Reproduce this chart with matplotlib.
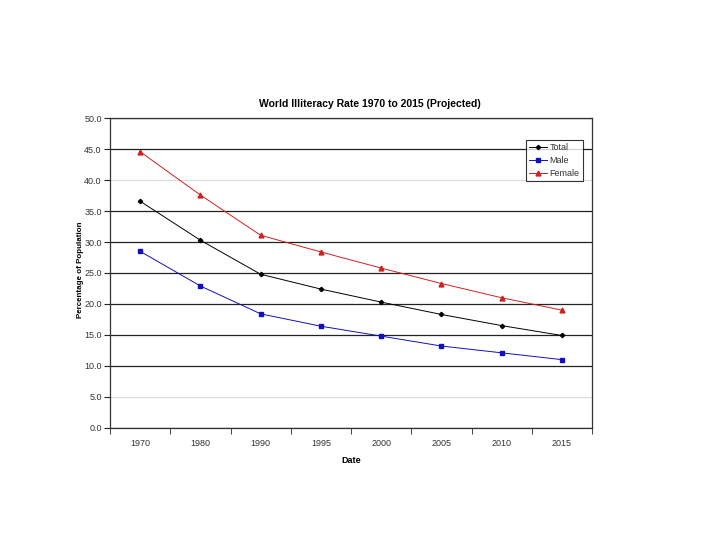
import numpy as np
import matplotlib.pyplot as plt

plt.rcParams['font.family'] = ['Liberation Sans', 'DejaVu Sans']

# Datos
anios = ['1970', '1980', '1990', '1995', '2000', '2005', '2010', '2015']
total = [36.6, 30.3, 24.8, 22.4, 20.3, 18.3, 16.5, 14.9]
hombres = [28.5, 22.9, 18.4, 16.4, 14.8, 13.2, 12.1, 11.0]
mujeres = [44.6, 37.6, 31.1, 28.4, 25.8, 23.3, 21.0, 19.0]

x = np.arange(len(anios))

fig = plt.figure(figsize=(7.2, 5.4), dpi=100, facecolor='white')
ax = fig.add_axes([110 / 720, 1 - 427.7 / 540, 482 / 720, 309.4 / 540])

ax.plot(x, total, color='black', marker='D', markersize=2.2, linewidth=0.7, label='Total')
ax.plot(x, hombres, color='#1010c0', marker='s', markersize=3, linewidth=0.7, label='Male')
ax.plot(x, mujeres, color='#d02020', marker='^', markersize=3.5, linewidth=0.7, label='Female')

ax.set_xlim(-0.5, len(anios) - 0.5)
ax.set_ylim(0, 50)
ax.set_yticks(np.arange(0, 50.1, 5))
ax.set_yticklabels(['%.1f' % v for v in np.arange(0, 50.1, 5)])
ax.set_xticks(x)
ax.set_xticklabels(anios)
ax.set_xticks(np.arange(-0.5, len(anios) + 0.5, 1), minor=True)
ax.tick_params(axis='x', which='major', length=0, pad=8, labelsize=6.5, labelcolor='#333333')
ax.tick_params(axis='x', which='minor', length=4, direction='out', color='#222222')
ax.tick_params(axis='y', length=4, direction='out', pad=2, labelsize=6.5, labelcolor='#333333', color='#222222')

# Líneas de rejilla
ax.grid(axis='y', color='#222222', linewidth=0.9)
for valor, linea in zip(np.arange(0, 50.1, 5), ax.get_ygridlines()):
    if valor in (5, 40):
        linea.set_color('#dddddd')
ax.set_axisbelow(True)

for spine in ax.spines.values():
    spine.set_color('#333333')
    spine.set_linewidth(0.9)

ax.set_title('World Illiteracy Rate 1970 to 2015 (Projected)', fontsize=7.5, fontweight='bold',
             x=0.54, pad=8)
ax.set_xlabel('Date', fontsize=6.5, fontweight='bold', labelpad=6)
ax.set_ylabel('Percentage of Population', fontsize=5.8, fontweight='bold')
ax.yaxis.set_label_coords(-0.054, 0.51)

leg = ax.legend(loc='upper right', bbox_to_anchor=(0.99, 0.945), fontsize=6.5, frameon=True,
                fancybox=False, edgecolor='black', handlelength=2.0, borderpad=0.35,
                labelspacing=0.45, handletextpad=0.3, labelcolor='#333333')
leg.get_frame().set_linewidth(0.8)

fig.savefig('out.png', dpi=100, facecolor='white')
